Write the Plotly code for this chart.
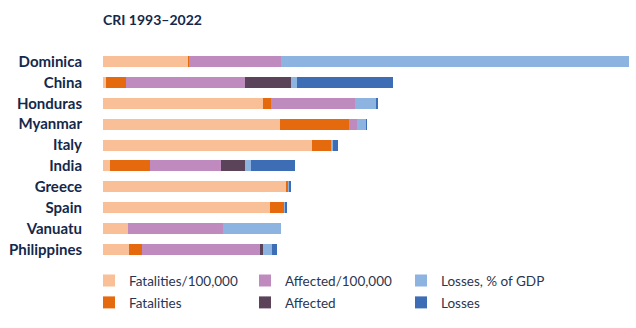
import plotly.graph_objects as go

countries = ["Dominica", "China", "Honduras", "Myanmar", "Italy",
             "India", "Greece", "Spain", "Vanuatu", "Philippines"]

fatalities_per_100k = [85, 3, 160, 177, 209, 7, 183, 167, 25, 26]
fatalities          = [1, 20, 8, 69, 19, 40, 2, 14, 0, 13]
affected_per_100k   = [92, 119, 84, 8, 0, 71, 0, 0, 95, 118]
affected            = [0, 46, 0, 0, 0, 24, 0, 0, 0, 3]
losses_pct_gdp      = [348, 6, 21, 9, 2, 6, 1, 1, 58, 9]
losses              = [0, 96, 2, 1, 5, 44, 2, 2, 0, 5]

series = [
    ("Fatalities/100,000", fatalities_per_100k, "#F9BF96", "legend", 1),
    ("Fatalities", fatalities, "#E56A0E", "legend2", 1),
    ("Affected/100,000", affected_per_100k, "#BF8BBF", "legend", 2),
    ("Affected", affected, "#5B4459", "legend2", 2),
    ("Losses, % of GDP", losses_pct_gdp, "#8DB3E0", "legend", 3),
    ("Losses", losses, "#3D6DB5", "legend2", 3),
]

fig = go.Figure()
for name, vals, color, leg, rank in series:
    fig.add_trace(go.Bar(
        y=countries, x=vals, name=name, orientation="h",
        marker=dict(color=color, line=dict(width=0)),
        legend=leg, legendrank=rank,
    ))

legend_style = dict(orientation="h", x=-14/528, xanchor="left", yanchor="top",
                    traceorder="normal", entrywidth=111, entrywidthmode="pixels",
                    bgcolor="rgba(0,0,0,0)",
                    font=dict(size=13.5, color="#2B3650", family="Lato"))

fig.update_layout(
    barmode="stack",
    bargap=0.47,
    width=636, height=328,
    margin=dict(l=103, r=5, t=50.5, b=67.5, autoexpand=False),
    plot_bgcolor="white", paper_bgcolor="white",
    font=dict(family="Lato", color="#1B2B4B"),
    title=dict(text="<b>CRI 1993–2022</b>", x=103/636, xanchor="left",
               y=1-20/328, yanchor="middle",
               font=dict(size=14, color="#14284B", family="Lato")),
    xaxis=dict(range=[0, 528], visible=False, fixedrange=True),
    yaxis=dict(autorange="reversed", showgrid=False, showline=False,
               ticks="", ticklabelstandoff=20,
               tickfont=dict(size=15, color="#14284B", family="Lato", weight="bold")),
    showlegend=True,
    legend=dict(y=-0.025, **legend_style),
    legend2=dict(y=-0.025 - 22/210, **legend_style),
)

fig.write_html("out.html")
